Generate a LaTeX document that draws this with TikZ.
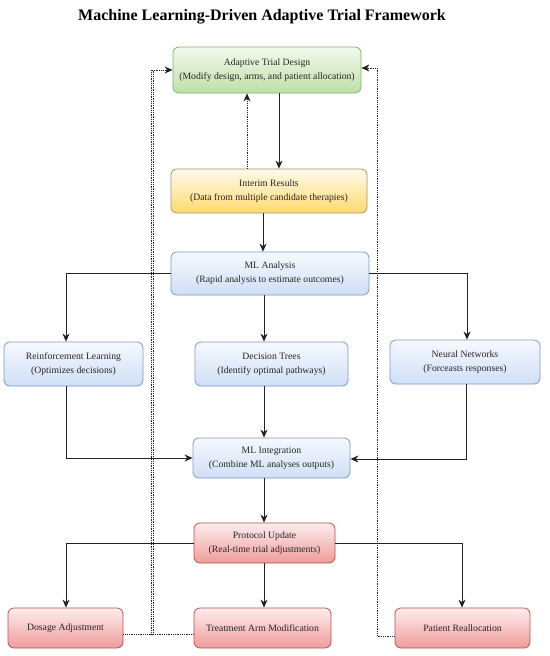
\documentclass[tikz,border=0pt]{standalone}
\usepackage{fontspec}
\setmainfont{Liberation Serif}
\usetikzlibrary{arrows.meta,calc}
\definecolor{gtop}{HTML}{F3FAEE}\definecolor{gbot}{HTML}{BEDFA6}\definecolor{gline}{HTML}{82B366}
\definecolor{ytop}{HTML}{FFFAEC}\definecolor{ybot}{HTML}{FFDA6E}\definecolor{yline}{HTML}{A39670}
\definecolor{btop}{HTML}{F6F9FE}\definecolor{bbot}{HTML}{CFDFF5}\definecolor{bline}{HTML}{7D9AC8}
\definecolor{rtop}{HTML}{FDEDED}\definecolor{rbot}{HTML}{EE9C9A}\definecolor{rline}{HTML}{B85450}
\definecolor{conn}{HTML}{222222}
\tikzset{
  box/.style={rounded corners=6pt, line width=0.8pt, align=center, inner sep=0pt,
    font=\fontsize{9.7}{14}\selectfont, text=black!85},
  greenbox/.style={box, draw=gline, top color=gtop, bottom color=gbot},
  yellowbox/.style={box, draw=yline, top color=ytop, bottom color=ybot},
  bluebox/.style={box, draw=bline, top color=btop, bottom color=bbot},
  redbox/.style={box, draw=rline, top color=rtop, bottom color=rbot},
  arr/.style={draw=conn, line width=0.9pt, -{Stealth[length=8pt,width=7pt,inset=2.5pt]}},
  dotarr/.style={draw=conn, line width=0.9pt, dash pattern=on 0.9pt off 0.9pt,
    -{Stealth[length=8pt,width=7pt,inset=2.5pt]}},
  dotline/.style={draw=conn, line width=0.9pt, dash pattern=on 0.9pt off 0.9pt}
}
\begin{document}
\begin{tikzpicture}[x=1pt,y=-1pt]
\useasboundingbox[fill=white] (0,0) rectangle (549,656);
\node[font=\bfseries\fontsize{16}{19}\selectfont] (title) at (262,17) {Machine Learning-Driven Adaptive Trial Framework};

\node[greenbox, minimum width=188pt, minimum height=46pt] (atd) at (267,70)
  {Adaptive Trial Design\\(Modify design, arms, and patient allocation)};
\node[yellowbox, minimum width=196pt, minimum height=44pt] (ir) at (269,191)
  {Interim Results\\(Data from multiple candidate therapies)};
\node[bluebox, minimum width=198pt, minimum height=43pt] (mla) at (270,273.5)
  {ML Analysis\\(Rapid analysis to estimate outcomes)};
\node[bluebox, minimum width=139pt, minimum height=44pt] (rl) at (73.5,364)
  {Reinforcement Learning\\(Optimizes decisions)};
\node[bluebox, minimum width=153pt, minimum height=44pt] (dt) at (271.5,364)
  {Decision Trees\\(Identify optimal pathways)};
\node[bluebox, minimum width=150pt, minimum height=44pt] (nn) at (465,362)
  {Neural Networks\\(Forceasts responses)};
\node[bluebox, minimum width=157pt, minimum height=40pt] (mli) at (271.5,458)
  {ML Integration\\(Combine ML analyses outputs)};
\node[redbox, minimum width=141pt, minimum height=40pt] (pu) at (264.5,543)
  {Protocol Update\\(Real-time trial adjustments)};
\node[redbox, minimum width=115pt, minimum height=40pt] (da) at (65.5,628)
  {Dosage Adjustment};
\node[redbox, minimum width=137pt, minimum height=40pt] (tam) at (262.5,628)
  {Treatment Arm Modification};
\node[redbox, minimum width=135pt, minimum height=40pt] (pr) at (462.5,628)
  {Patient Reallocation};

% helper coordinates
\coordinate (c279) at (279,0);
\coordinate (c247) at (247,0);
\coordinate (c263) at (263,0);
\coordinate (c264) at (264,0);
\coordinate (c66) at (66,0);
\coordinate (c467) at (467,0);
\coordinate (c466) at (466,0);
\coordinate (c462) at (462,0);
\coordinate (lr) at (66,458);
\coordinate (nr) at (466,459);
\coordinate (dl1) at (153,634);
\coordinate (dl2) at (151.5,634);
\coordinate (dr) at (377,636);
\coordinate (atdl) at (173,70);
\coordinate (atdr) at (361,68);

% main flow
\draw[arr] (atd.south -| c279) -- (ir.north -| c279);
\draw[dotarr] (ir.north -| c247) -- (atd.south -| c247);
\draw[arr] (ir.south -| c263) -- (mla.north -| c263);
\draw[arr] (mla.west) -| (rl.north -| c66);
\draw[arr] (mla.east) -| (nn.north -| c467);
\draw[arr] (mla.south -| c264) -- (dt.north -| c264);
\draw[arr] (rl.south -| c66) -- (lr) -- (mli.west |- lr);
\draw[arr] (dt.south -| c264) -- (mli.north -| c264);
\draw[arr] (nn.south -| c466) -- (nr) -- (mli.east |- nr);
\draw[arr] (mli.south -| c264) -- (pu.north -| c264);
\draw[arr] (pu.west) -| (da.north -| c66);
\draw[arr] (pu.east) -| (pr.north -| c462);
\draw[arr] (pu.south -| c264) -- (tam.north -| c264);

% feedback loops
\draw[dotline] (da.east |- dl1) -- (dl1) -- (dl1 |- atdl);
\draw[dotarr] (tam.west |- dl2) -- (dl2) -- (dl2 |- atdl) -- (atd.west |- atdl);
\draw[dotarr] (pr.west |- dr) -- (dr) -- (dr |- atdr) -- (atd.east |- atdr);
\end{tikzpicture}
\end{document}
